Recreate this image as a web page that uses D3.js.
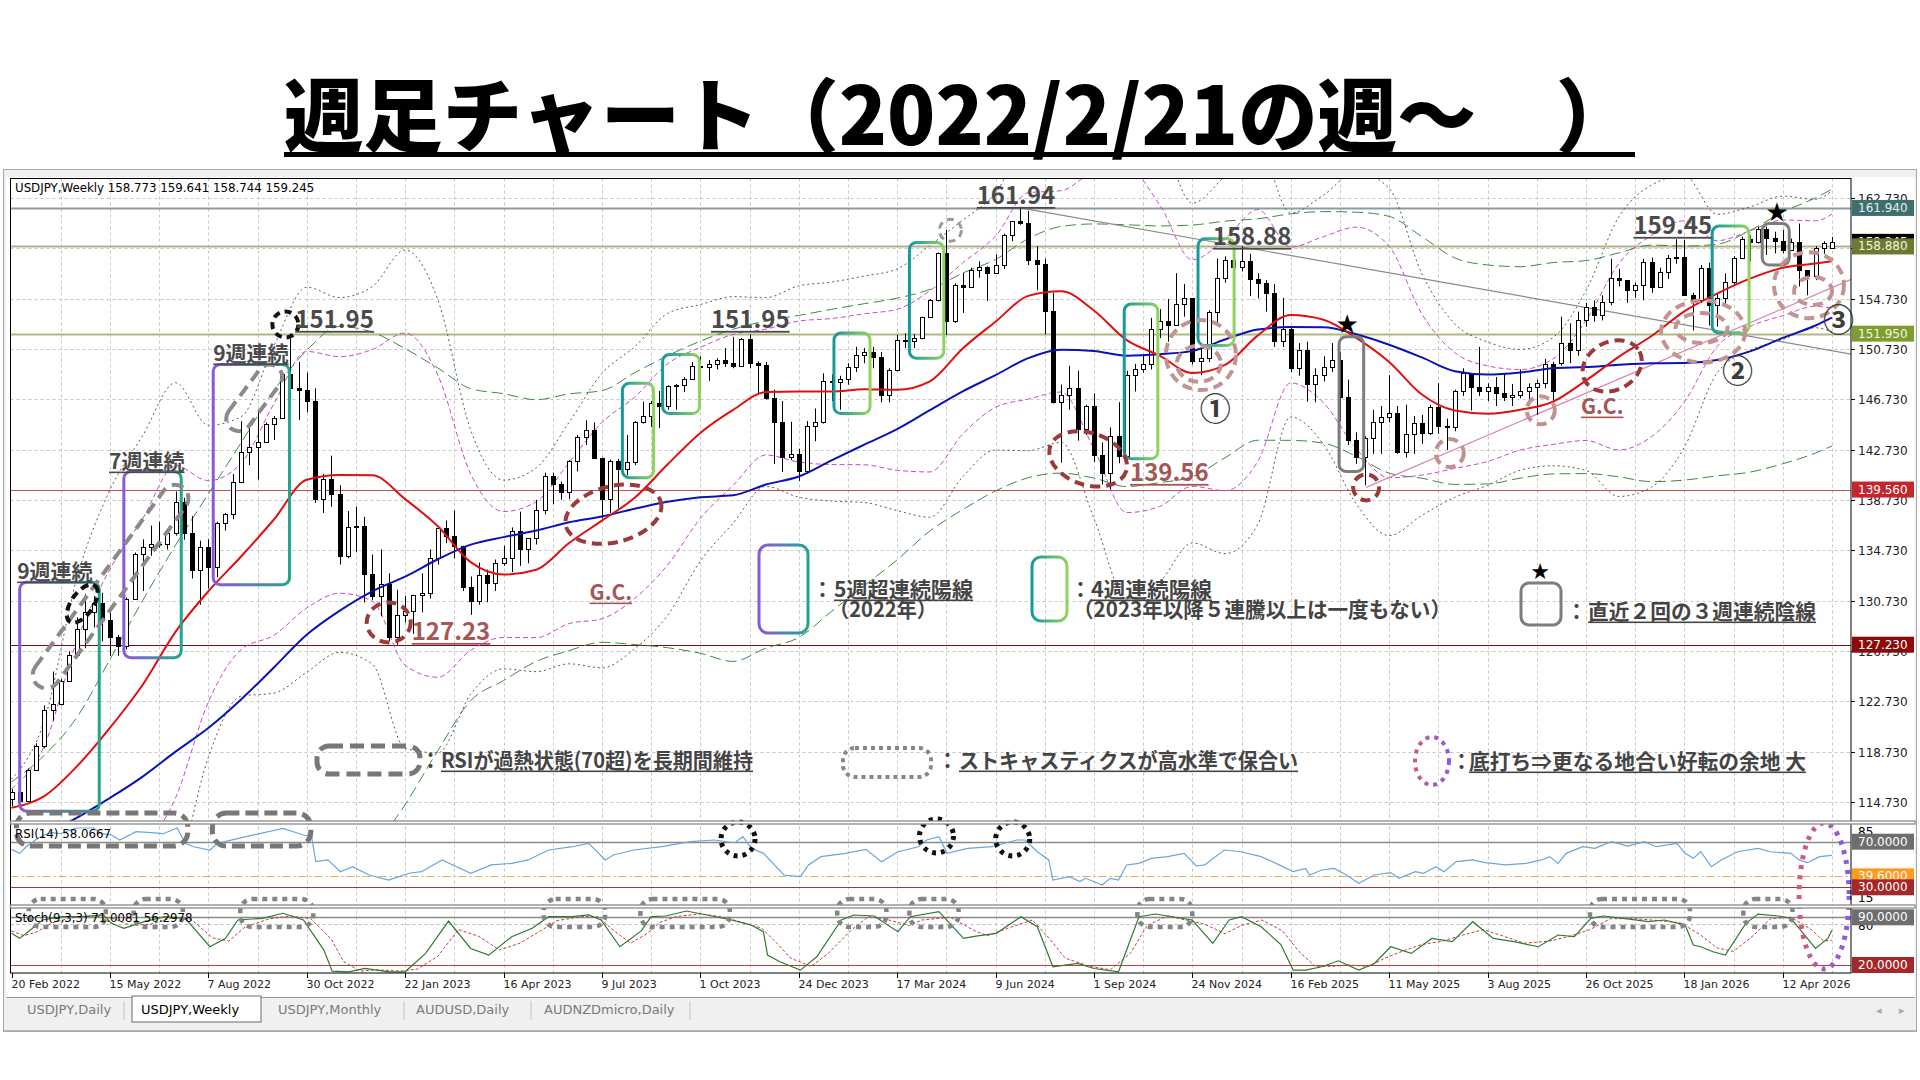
<!DOCTYPE html>
<html lang="ja">
<head>
<meta charset="utf-8">
<script src="https://cdn.jsdelivr.net/npm/d3@7/dist/d3.min.js"></script>
<style>
  html, body { margin: 0; padding: 0; background: #fff; }
  svg { display: block; }
</style>
</head>
<body>
<svg id="chart"></svg>
<script>
// ---------- data ----------
const tickLabels = ["20 Feb 2022", "15 May 2022", "7 Aug 2022", "30 Oct 2022", "22 Jan 2023", "16 Apr 2023",
  "9 Jul 2023", "1 Oct 2023", "24 Dec 2023", "17 Mar 2024", "9 Jun 2024", "1 Sep 2024", "24 Nov 2024",
  "16 Feb 2025", "11 May 2025", "3 Aug 2025", "26 Oct 2025", "18 Jan 2026", "12 Apr 2026"];

// weekly candles, one row per 12 weeks
const opens = [
  115.00,115.56,114.78,117.29,119.17,122.05,122.53,124.33,126.42,128.50,129.86,130.56,
  129.19,127.86,127.11,130.86,134.40,134.96,135.21,135.24,136.10,138.55,136.10,133.19,
  135.00,133.42,136.89,137.61,140.20,142.58,142.91,143.34,144.74,145.27,148.73,147.67,
  147.45,146.62,138.80,140.37,139.17,134.30,136.55,136.66,132.85,131.10,132.09,127.87,
  129.59,129.88,131.19,131.36,134.16,136.48,135.85,135.04,131.82,130.74,132.80,132.15,
  133.76,134.16,136.30,134.83,135.71,137.96,140.61,139.98,139.39,141.85,143.72,144.31,
  142.10,138.80,141.80,141.17,141.75,144.96,145.38,146.42,146.20,147.82,147.88,148.36,
  149.35,149.32,149.57,149.86,149.65,149.39,151.52,149.60,149.44,146.80,144.95,142.16,
  142.42,141.00,144.60,144.93,148.15,148.14,148.36,149.29,150.22,150.50,150.11,147.06,
  149.04,151.43,151.35,151.61,153.27,154.63,158.33,152.97,155.78,155.66,156.99,157.26,
  156.78,157.40,159.77,160.88,160.77,157.83,157.49,153.76,146.54,147.11,147.63,144.36,
  146.17,142.29,140.85,143.85,142.20,148.70,149.15,149.50,152.30,152.98,152.63,154.31,
  154.75,149.77,150.00,153.65,156.40,157.84,157.26,157.73,156.30,155.96,155.18,151.40,
  152.30,149.20,150.63,147.98,148.63,149.32,149.84,146.90,143.50,142.18,143.68,144.95,
  145.36,145.67,142.57,144.01,144.86,144.08,146.10,144.65,144.50,147.40,148.80,147.70,
  147.40,147.70,147.20,146.90,147.05,147.40,147.70,148.00,149.50,149.60,151.18,150.65,
  153.03,154.09,153.43,154.49,156.34,156.20,155.42,155.80,157.67,155.68,156.87,157.93,
  158.07,155.00,154.60,157.14,154.20,154.75,156.08,157.93,159.44,159.26,160.24,159.52,
  159.34,158.60,159.26,157.00,156.50,158.73,158.773];
const highs = [
  115.77,115.80,117.40,119.40,122.40,125.10,124.50,126.70,129.40,131.25,131.10,131.35,
  129.80,128.00,130.98,134.56,135.60,136.70,137.00,136.30,139.40,138.90,137.45,135.50,
  135.60,137.00,137.70,140.80,144.99,144.90,145.90,144.90,145.40,148.86,151.95,149.70,
  148.85,147.60,140.80,142.25,139.90,137.85,138.20,137.40,134.40,134.80,132.90,131.60,
  131.10,131.20,132.90,134.80,136.50,137.10,137.90,135.10,132.65,133.75,133.20,134.00,
  135.10,136.55,137.80,135.50,138.75,140.90,140.90,140.20,141.90,143.90,145.07,144.90,
  142.10,141.95,142.00,143.90,145.00,146.55,146.60,147.40,147.85,147.95,148.50,149.70,
  150.15,149.85,150.00,150.80,151.70,151.60,151.90,149.75,149.70,147.50,146.60,144.95,
  142.80,145.00,146.00,148.80,148.70,148.60,149.60,150.90,150.80,150.90,150.50,149.20,
  151.85,151.97,151.90,153.30,154.70,158.40,160.20,155.95,156.80,157.20,157.70,157.30,
  158.25,159.90,160.90,161.94,161.70,158.90,157.90,155.20,147.90,149.40,149.00,146.30,
  147.20,143.30,144.50,146.50,149.00,149.55,150.30,153.20,153.90,154.70,156.75,155.90,
  154.50,151.20,153.80,157.90,158.10,158.10,158.88,158.30,156.75,156.20,155.90,154.80,
  152.40,151.20,151.30,149.20,150.15,151.20,150.50,148.30,144.10,143.80,145.90,146.20,
  148.65,146.20,146.30,145.40,145.50,146.30,148.00,145.20,147.50,149.20,148.80,150.90,
  148.00,148.50,148.80,147.95,149.10,148.00,148.30,149.95,149.70,153.30,152.77,153.70,
  154.40,154.60,155.00,157.90,157.10,156.20,156.00,157.90,158.00,157.20,158.20,159.45,
  159.39,155.20,157.40,157.60,155.15,156.74,158.10,159.66,159.80,160.45,160.45,160.05,
  160.19,159.50,160.70,157.00,158.90,159.30,159.641];
const lows = [
  114.41,114.65,114.80,117.70,119.00,121.20,122.40,124.30,126.30,126.95,128.60,127.50,
  126.35,126.35,126.86,130.80,131.50,134.30,134.95,134.80,135.90,135.57,132.50,130.40,
  131.70,132.60,136.30,137.20,140.20,141.50,140.35,143.30,143.50,145.20,146.20,145.10,
  145.70,138.50,137.70,138.20,133.60,134.10,134.60,130.60,130.80,129.50,127.50,127.23,
  129.00,128.10,129.80,130.90,133.60,135.30,134.10,131.50,129.60,130.40,130.60,131.50,
  133.50,133.00,133.50,133.70,135.20,137.60,138.40,138.75,138.80,141.00,143.10,142.00,
  137.25,137.70,138.05,140.70,141.50,144.80,144.55,144.45,145.90,145.90,147.30,148.40,
  147.30,148.20,149.10,149.30,149.20,149.30,149.20,147.15,146.70,141.60,140.95,141.90,
  140.25,140.80,143.40,144.80,146.60,145.90,147.90,148.90,149.60,149.20,146.50,146.50,
  148.95,150.80,150.80,151.50,153.30,154.50,151.85,152.80,153.60,155.60,156.40,154.55,
  156.80,157.10,159.30,160.60,157.40,155.40,151.90,146.40,141.70,145.90,143.45,143.90,
  141.75,139.95,139.58,141.65,141.70,147.35,148.85,149.10,151.60,151.30,152.70,153.30,
  149.50,148.65,149.70,152.70,156.00,156.10,156.90,154.95,154.75,153.70,150.90,150.90,
  148.90,148.60,146.55,146.50,148.15,148.90,145.00,143.10,141.60,139.89,142.40,142.40,
  144.90,142.40,142.10,142.40,143.20,143.90,144.00,142.70,144.20,147.00,145.85,147.00,
  146.60,146.20,146.60,146.20,146.80,146.30,145.50,147.60,146.60,149.40,149.60,150.20,
  152.50,152.90,153.00,154.20,155.70,154.40,154.80,154.60,155.20,155.90,156.30,157.50,
  155.40,152.20,154.40,152.60,152.50,154.20,155.80,157.90,157.70,159.10,158.20,158.33,
  158.33,158.60,155.70,155.00,156.20,158.30,158.744];
const closes = [
  115.56,114.78,117.29,119.17,122.05,122.53,124.33,126.42,128.50,129.86,130.56,129.19,
  127.86,127.11,130.86,134.40,134.96,135.21,135.24,136.10,138.55,136.10,133.19,135.00,
  133.42,136.89,137.61,140.20,142.58,142.91,143.34,144.74,145.27,148.73,147.67,147.45,
  146.62,138.80,140.37,139.17,134.30,136.55,136.66,132.85,131.10,132.09,127.87,129.59,
  129.88,131.19,131.36,134.16,136.48,135.85,135.04,131.82,130.74,132.80,132.15,133.76,
  134.16,136.30,134.83,135.71,137.96,140.61,139.98,139.39,141.85,143.72,144.31,142.10,
  138.80,141.80,141.17,141.75,144.96,145.38,146.42,146.20,147.82,147.88,148.36,149.35,
  149.32,149.57,149.86,149.65,149.39,151.52,149.60,149.44,146.80,144.95,142.16,142.42,
  141.00,144.60,144.93,148.15,148.14,148.36,149.29,150.22,150.50,150.11,147.06,149.04,
  151.43,151.35,151.61,153.27,154.63,158.33,152.97,155.78,155.66,156.99,157.26,156.78,
  157.40,159.77,160.88,160.77,157.83,157.49,153.76,146.54,147.11,147.63,144.36,146.17,
  142.29,140.85,143.85,142.20,148.70,149.15,149.50,152.30,152.98,152.63,154.31,154.75,
  149.77,150.00,153.65,156.40,157.84,157.26,157.73,156.30,155.96,155.18,151.40,152.30,
  149.20,150.63,147.98,148.63,149.32,149.84,146.90,143.50,142.18,143.68,144.95,145.36,
  145.67,142.57,144.01,144.86,144.08,146.10,144.65,144.50,147.40,148.80,147.70,147.40,
  147.70,147.20,146.90,147.05,147.40,147.70,148.00,149.50,147.40,151.18,150.65,153.03,
  154.09,153.43,154.49,156.34,156.20,155.42,155.80,157.67,155.68,156.87,157.93,158.07,
  155.00,154.60,157.14,154.20,154.75,156.08,157.93,159.44,159.26,160.24,159.52,159.34,
  158.60,159.26,157.00,156.50,158.73,159.18,159.245];

// moving averages and bands, sampled every 4 weeks
const maWeeks = [0,4,8,12,16,20,24,28,32,36,40,44,48,52,56,60,64,68,72,76,80,84,88,92,96,100,104,108,
  112,116,120,124,128,132,136,140,144,148,152,156,160,164,168,172,176,180,184,188,192,196,200,204,208,
  212,216,220,222];
const sma20 = [114.28,115.20,117.58,120.62,124.05,128.25,131.47,134.24,137.18,140.34,140.72,140.69,138.80,
  136.64,133.79,132.81,133.19,135.31,137.09,138.91,141.55,144.06,145.89,147.31,147.35,147.35,147.53,147.49,
  148.16,150.77,152.90,154.95,155.31,153.79,151.43,150.21,148.82,149.47,151.81,153.43,153.06,151.61,149.70,
  147.11,145.84,145.59,145.90,146.55,148.22,150.11,151.76,153.72,155.13,156.32,157.18,157.52,157.70];
const sma52 = [111.52,112.24,113.49,115.05,116.75,118.73,120.61,122.88,125.42,128.02,129.92,131.47,132.64,
  134.02,135.18,135.78,136.30,136.96,137.42,138.04,138.59,138.95,139.10,139.96,140.60,141.88,143.13,144.37,
  145.87,147.36,148.65,150.00,150.67,150.57,150.20,150.31,150.58,151.49,152.28,152.47,152.45,151.90,151.07,
  150.06,148.97,148.71,148.87,149.20,149.29,149.47,149.59,149.61,149.85,150.54,151.61,152.60,153.22];
// magenta dashed pair (inner band)
const innerUp = [115.78,119.20,127.58,133.22,137.25,141.45,140.27,141.64,146.38,150.54,150.12,150.69,152.00,
  148.64,140.79,137.81,138.59,141.71,144.89,146.91,149.55,150.86,151.89,152.31,152.95,153.15,153.53,153.89,
  155.36,157.57,159.70,163.15,163.31,164.79,165.13,162.21,157.82,159.47,161.81,158.83,159.66,160.41,158.90,
  153.51,150.44,149.39,149.10,149.95,152.98,157.51,159.76,160.92,159.33,160.12,160.98,160.92,161.44];
const innerLo = [112.78,111.20,107.58,108.02,110.85,115.05,122.67,126.84,127.98,130.14,131.32,130.69,125.60,
  124.64,126.79,127.81,127.79,128.91,129.29,130.91,133.55,137.26,139.89,142.31,141.75,141.55,141.53,141.09,
  140.96,143.97,146.10,146.75,147.31,142.79,137.73,138.21,139.82,139.47,141.81,148.03,146.46,142.81,140.50,
  140.71,141.24,141.79,142.70,143.15,143.46,142.71,143.76,146.52,150.93,152.52,153.38,154.12,153.96];
// gray dotted pair (outer band)
const outerUp = [116.53,121.20,132.58,139.52,143.85,148.05,144.67,145.34,150.98,155.64,154.82,155.69,158.60,
  154.64,144.29,140.31,141.29,144.91,148.79,150.91,153.55,154.26,154.89,154.81,155.75,156.05,156.53,157.09,
  158.96,160.97,163.10,167.25,167.31,170.29,171.98,168.21,162.32,164.47,166.81,161.53,162.96,164.81,163.50,
  156.71,152.74,151.29,150.70,151.65,155.36,161.21,163.76,164.52,161.43,162.02,162.88,162.62,163.31];
const outerLo = [112.03,109.20,102.58,101.72,104.25,108.45,118.27,123.14,123.38,125.04,126.62,125.69,119.00,
  118.64,123.29,125.31,125.09,125.71,125.39,126.91,129.55,133.86,136.89,139.81,138.95,138.65,138.53,137.89,
  137.36,140.57,142.70,142.65,143.31,137.29,130.88,132.21,135.32,134.47,136.81,145.33,143.16,138.41,135.90,
  137.51,138.94,139.89,141.10,141.45,141.08,139.01,139.76,142.92,148.83,150.62,151.48,152.42,152.09];
// green long-dashed pair (band around the 52-week line)
const longUp = [116.32,118.44,121.49,126.05,130.75,135.13,139.21,143.28,147.42,150.62,152.52,152.07,150.76,
  149.22,147.58,147.18,146.70,147.16,147.42,148.84,150.19,151.35,152.30,152.96,153.40,153.88,154.33,154.77,
  155.47,156.76,157.85,159.50,160.47,160.67,160.60,160.51,160.58,160.89,161.08,161.47,161.65,161.60,161.27,
  159.66,157.97,157.41,157.27,157.60,157.75,158.37,158.99,158.91,159.05,160.14,161.61,162.74,163.42];
const longLo = [106.72,106.04,105.49,104.05,102.75,102.33,102.01,102.48,103.42,105.42,107.32,110.87,114.52,
  118.82,122.78,124.38,125.90,126.76,127.42,127.24,126.99,126.55,125.90,126.96,127.80,129.88,131.93,133.97,
  136.27,137.96,139.45,140.50,140.87,140.47,139.80,140.11,140.58,142.09,143.48,143.47,143.25,142.20,140.87,
  140.46,139.97,140.01,140.47,140.80,140.83,140.57,140.19,140.31,140.65,140.94,141.61,142.46,143.02];

// RSI(14) and Stoch(9,3,3) traces: [week, value]
const rsiPts = [[0,63.3],[1,59.8],[1.8,65.6],[3,72],[4,76],[5,78],[6,77],[7,80],[8,82],[9,82],[10,82],[11,77],
  [12.2,75.9],[13.2,71.5],[15.2,78.8],[17,78],[18.5,77],[20.2,82],[21.2,68.6],[22.2,65.6],[24.2,62.7],[25.1,68.6],
  [28.6,74.4],[33.1,81.7],[35.6,75.9],[36.6,74.4],[37.1,52.5],[38.6,54],[40.1,43.7],[41.6,48.1],[43.6,40.8],
  [46,36.4],[48.5,42.3],[50,43.7],[52.5,54],[56,42.3],[58.5,49.6],[61,51],[63,54],[65.5,62.7],[68.4,65.6],
  [70.4,68.6],[72.4,54],[73.4,58.3],[75.9,62.7],[79.3,65.6],[82.8,70],[85.7,71.5],[88.2,69.1],[89.2,74.4],
  [90.2,64.2],[91.7,59.8],[94.2,40.8],[96.2,39.3],[97.2,49.6],[98.7,56.9],[101.7,59.8],[104.2,63.3],[106.1,52.5],
  [108.1,61.2],[110.6,65.6],[111.6,71.5],[113.1,74.4],[114.1,59.8],[116.6,64.2],[119.6,65.6],[121.1,68.6],
  [122.6,71.5],[123.6,71.5],[125.1,61.2],[126.5,54],[127,36.4],[129,39.3],[130.3,35],[131,37.9],[133,32],
  [134,37.9],[135,36.4],[136,49.6],[137.5,51],[139,55.4],[141,56.9],[143,59.8],[144.5,48.7],[145.5,49.6],
  [147.9,62.7],[149.9,61.2],[152.4,56.9],[154.8,49],[156.3,43.7],[157.8,46.6],[158.3,40.8],[159.8,45.2],
  [161.3,46.6],[162.8,40.8],[164.3,33.5],[166.2,40.8],[168.2,42.9],[169.2,37.9],[171.2,43.7],[172.2,42.3],
  [173.7,48.1],[174.7,43.7],[176.2,52.5],[178.2,54],[179.7,51.6],[182.2,49.6],[184.7,51],[186.6,54],[187.6,56.9],
  [188.6,51],[189.6,59.8],[191.6,65.6],[193.1,64.2],[195.1,70],[197.1,66.2],[199.1,70],[200.6,65.6],[203.1,68.6],
  [204.1,59.8],[205.1,55.4],[206,61.2],[207.3,48.1],[208.5,54],[210.5,61.2],[213,64.2],[214.5,61.2],[217,59.8],
  [218,54],[219,51.6],[220.5,56.9],[222,58.07]];
const stochK = [[0,66.5],[1,59.1],[2.3,71.3],[3.8,86],[6.2,90.9],[8.7,90.9],[11.2,93.4],[12.2,81.1],[13.7,73.8],
  [16.2,83.6],[18.7,90.9],[21.2,88.5],[24.2,46.8],[26.1,59.1],[27.6,86],[30.6,88.5],[33.1,95.9],[35.6,86],
  [38.1,41.9],[39.1,11],[41.1,10],[43.1,14.9],[46,10],[48,10],[50.5,37],[53.3,84.5],[56,44.3],[58.2,34.5],
  [61,61.5],[63.5,73.8],[65.5,90.9],[68.4,90.9],[70.4,93.4],[71.9,86],[74.2,46.8],[76.8,70],[78,90.9],[79.8,91.9],
  [82.3,99.2],[84.8,93.4],[87.8,86],[90.2,78.6],[91.7,68.8],[92.2,34.5],[93.7,24.7],[96.2,12.5],[98.2,32.1],
  [101.2,86],[102.7,93.4],[105.2,91.9],[108.1,68.8],[109.6,90.9],[113.1,98.2],[116.1,59],[117.6,62.5],[120.1,66.5],
  [123.1,90.9],[125.1,76.2],[127,17.4],[130,22.3],[132,14.9],[135,10],[137.5,90.9],[139.5,94.8],[144,86],
  [146.5,51.7],[148.5,86],[150,90.9],[152.4,76.2],[154.8,50],[156.3,12.5],[157.8,12.5],[159.8,17.4],[161.8,26.2],
  [164.3,12.5],[166.2,22.3],[168.2,46.8],[170.7,37],[173.2,59],[175.7,54.2],[178.2,83.6],[180.7,59],[183.2,54.2],
  [186.2,46.8],[188.6,64],[190.6,61.5],[192.6,88.5],[194.1,91.9],[196.6,88.5],[199.6,83.6],[201.6,86],[204.1,78.6],
  [205.1,49.2],[206,46.8],[207.5,39.4],[209,34.5],[211.5,81.1],[213,94.8],[215.5,91.9],[217,88.5],[218.5,66.5],
  [220,44.3],[221.5,59],[222,71.0]];
const stochD = [[0,70],[1.5,63],[3,68],[5,82],[7.5,90],[10,92],[12.5,88],[14.5,78],[17,80],[19.5,89],[22,86],
  [24.5,60],[26.5,55],[28.5,76],[31.5,88],[34,92],[36.5,88],[39,58],[40.5,25],[42.5,11],[44.5,13],[47.5,11],
  [49.5,14],[52,33],[54.5,72],[57,62],[59.5,42],[62,52],[64.5,70],[66.5,85],[69.5,91],[71.5,91],[73.5,70],
  [75.5,52],[77.5,66],[79,82],[81,91],[84,95],[86.5,91],[89,83],[91.5,74],[93.5,50],[95,30],[97.5,18],[99.5,36],
  [102.5,72],[104.5,91],[107,86],[109.5,78],[111,86],[114.5,90],[117.5,70],[119,63],[121.5,74],[124.5,86],
  [126.5,60],[128.5,30],[131.5,18],[134,13],[136.5,38],[138.5,78],[141,92],[145.5,80],[148,66],[150,78],
  [152.5,86],[155,70],[157,40],[159,18],[161,18],[163,20],[165.5,18],[167.5,30],[170,42],[172,50],[174.5,55],
  [177,64],[179.5,72],[182,62],[184.5,52],[187.5,55],[190,62],[192.5,72],[195,88],[198,88],[201,85],[203.5,82],
  [206,64],[208,45],[210,40],[212.5,64],[214.5,88],[217,90],[219.5,72],[221,55],[222,56.3]];

const lastQuote = [158.773, 159.641, 158.744, 159.245];
const rsiLast = 58.0667, stochLast = [71.0081, 56.2978];
const priceLevels = [161.94, 158.88, 151.95, 139.56, 127.23];
const priceTicks = [162.73, 158.73, 154.73, 150.73, 146.73, 142.73, 138.73, 134.73, 130.73, 126.73, 122.73, 118.73, 114.73];
const rsiLevels = [70, 39.6, 30];
const stochLevels = [90, 80, 20];

// annotations, in weeks and prices
const purpleRuns = [[1.0, 10.7, 132.2, 114.0], [13.7, 20.7, 141.0, 126.2], [24.6, 33.9, 149.5, 132.0]];
const tealRuns = [[74.5, 78.3, 148.0, 140.5], [79.4, 83.9, 150.3, 145.6], [100.3, 104.7, 152.0, 145.6],
  [109.5, 113.7, 159.2, 150.0], [135.7, 139.8, 154.3, 142.0], [144.7, 149.1, 159.5, 151.0], [207.4, 211.9, 160.5, 152.0]];
const grayRuns = [[161.9, 164.9, 151.7, 141.0], [213.5, 216.8, 160.7, 157.4]];
const stars = [[162.9, 152.7], [215.3, 161.6]];
const circles = [ // week, price, rx, ry, rotation, tone
  [73.4, 137.6, 49, 28, -14, 'd'], [46.0, 129.0, 22, 20, 0, 'd'], [131.3, 142.0, 40, 26, 18, 'd'],
  [145.05, 150.25, 35, 35, 0, 'p'], [144.8, 149.56, 22, 18, 0, 'p'], [165.2, 139.73, 13, 13, 0, 'd'],
  [175.4, 142.46, 14, 14, 0, 'p'], [186.5, 145.86, 14, 14, 0, 'p'], [195.2, 149.38, 31, 24, -28, 'd'],
  [206.3, 152.12, 42, 31, 0, 'p'], [206.1, 152.4, 26, 15, 0, 'p'], [219.2, 155.8, 35, 33, 0, 'p'],
  [219.7, 155.34, 19, 14, 0, 'p']];
const peakMarks = [[33.4, 152.68, 13, 'k'], [114.5, 160.17, 11, 'g']];
const rsiCapsulesMain = [[3.26, 123.97, 20.9, 139.73, 27], [26.8, 144.4, 32.4, 149.3, 25]];
const smallTilt = [8.63, 130.49, 22, 11, -55];
const priceNotes = [["151.95", 34.6, 152.4, 'g'], ["9週連続", 24.6, 149.78, 'g'], ["7週連続", 11.9, 141.19, 'g'],
  ["9週連続", 0.7, 132.45, 'g'], ["151.95", 85.3, 152.4, 'g'], ["161.94", 117.7, 162.25, 'g'],
  ["158.88", 146.5, 159.0, 'g'], ["159.45", 197.8, 159.87, 'g'], ["139.56", 136.4, 140.24, 'r'],
  ["127.23", 48.8, 127.6, 'r'], ["G.C.", 70.5, 130.78, 'r'], ["G.C.", 191.4, 145.56, 'r']];
const circledNums = [["①", 146.8, 146.16], ["②", 210.5, 149.2], ["③", 222.8, 153.27]];
const grayTrend = [[123, 161.94], [224.4, 150.32]];
const pinkTrend = [[165.2, 139.73], [224.5, 156.3]];
const rsiCapsules = [[0.6, 21.5], [24.5, 36.5]];
const rsiDots = [[88.6, 72.4], [112.8, 75.0], [122.1, 72.4]];
const stochCapsules = [[2.1, 11.5], [14.9, 20.9], [27.9, 36.8], [64.9, 72.4], [76.7, 87.6], [100.7, 106.7],
  [109.5, 115.5], [137.3, 144.0], [192.5, 204.7], [211.2, 217.2]];
const bottomOval = 221.05;
const tabs = ["USDJPY,Daily", "USDJPY,Weekly", "USDJPY,Monthly", "AUDUSD,Daily", "AUDNZDmicro,Daily"];

// ---------- layout ----------
const L = 10.5, R = 1851, mainTop = 178.5, mainBot = 821, stoBot = 973;
const svg = d3.select('#chart').attr('width', 1920).attr('height', 1080)
  .style('font-family', '"DejaVu Sans", sans-serif');
const JP = '"Noto Sans CJK JP", "Noto Sans", sans-serif';

const x = d3.scaleLinear().domain([0, 216]).range([11.5, 1782.7]);
const y = d3.scaleLinear().domain([114.73, 162.73]).range([802, 198]);
const yR = d3.scaleLinear().domain([30, 70]).range([887.3, 841.7]);
const yS = d3.scaleLinear().domain([20, 90]).range([965, 917.3]);

const defs = svg.append('defs');
function grad(id, a, b) {
  const lg = defs.append('linearGradient').attr('id', id).attr('x1', 0).attr('x2', 1).attr('y1', 0).attr('y2', 0);
  lg.append('stop').attr('offset', '0%').attr('stop-color', a);
  lg.append('stop').attr('offset', '100%').attr('stop-color', b);
}
grad('gPurple', '#8a5ad8', '#22a48e');
grad('gTeal', '#149a9c', '#8fd45c');
grad('gOval', '#d45a7a', '#8a5ae6');
defs.append('clipPath').attr('id', 'clipMain').append('rect')
  .attr('x', L).attr('y', mainTop).attr('width', R - L).attr('height', mainBot - mainTop);

// ---------- window chrome ----------
svg.append('rect').attr('width', 1920).attr('height', 1080).attr('fill', '#fff');
svg.append('rect').attr('x', 3.5).attr('y', 169.5).attr('width', 1913).attr('height', 862)
  .attr('fill', '#f0f0f0').attr('stroke', '#a9a9a9');
svg.append('rect').attr('x', 6).attr('y', 177).attr('width', 1909).attr('height', 820).attr('fill', '#fff');

// title
svg.append('text').attr('x', 284).attr('y', 145).attr('font-family', JP)
  .attr('font-size', 80).attr('font-weight', 900).attr('fill', '#000')
  .attr('textLength', 1351).attr('lengthAdjust', 'spacingAndGlyphs')
  .text('週足チャート（2022/2/21の週～　）');
svg.append('rect').attr('x', 284).attr('y', 152).attr('width', 1351).attr('height', 5).attr('fill', '#000');

// ---------- grid ----------
const grid = svg.append('g').attr('stroke', '#c6c6c6').attr('stroke-dasharray', '3,3');
for (let w = 6; w <= 222; w += 6) {
  const xx = Math.round(x(w)) + 0.5;
  grid.append('line').attr('x1', xx).attr('x2', xx).attr('y1', mainTop).attr('y2', stoBot);
}
priceTicks.forEach(p => {
  const yy = Math.round(y(p)) + 0.5;
  grid.append('line').attr('x1', L).attr('x2', R).attr('y1', yy).attr('y2', yy);
});

const main = svg.append('g').attr('clip-path', 'url(#clipMain)');

// horizontal price levels
const levelColors = ['#8d9c9c', '#b3b38a', '#b2b97e', '#c25050', '#7a1010'];
priceLevels.forEach((p, i) => {
  const yy = Math.round(y(p)) + 0.5;
  main.append('line').attr('x1', L).attr('x2', R).attr('y1', yy).attr('y2', yy)
    .attr('stroke', levelColors[i]).attr('stroke-width', i < 3 ? 2 : 1.2);
});

// bands
const bandLine = d3.line().x((d, i) => x(maWeeks[i])).y(d => y(d)).curve(d3.curveMonotoneX);
[[longUp, longLo, '#3d8c3d', '11,5'], [outerUp, outerLo, '#5a5a5a', '2,3'], [innerUp, innerLo, '#cc48cc', '5,3']]
  .forEach(([up, lo, col, dash]) => {
    [up, lo].forEach(arr => main.append('path').attr('d', bandLine(arr)).attr('fill', 'none')
      .attr('stroke', col).attr('stroke-width', 1).attr('stroke-dasharray', dash));
  });

// trend lines
const tl = d3.line().x(d => x(d[0])).y(d => y(d[1]));
main.append('path').attr('d', tl(grayTrend)).attr('stroke', '#8a8a8a').attr('stroke-width', 1.2).attr('fill', 'none');
main.append('path').attr('d', tl(pinkTrend)).attr('stroke', '#d888a8').attr('stroke-width', 1.2).attr('fill', 'none');

// candles
closes.forEach((c, i) => {
  const o = opens[i], cx = Math.round(x(i)) + 0.5;
  main.append('line').attr('x1', cx).attr('x2', cx).attr('y1', y(highs[i])).attr('y2', y(lows[i]))
    .attr('stroke', '#000');
  const t = Math.round(y(Math.max(o, c))) + 0.5, b = Math.round(y(Math.min(o, c))) + 0.5;
  main.append('rect').attr('x', cx - 2).attr('y', t).attr('width', 4).attr('height', Math.max(b - t, 0.5))
    .attr('fill', c >= o ? '#fff' : '#000').attr('stroke', '#000');
});

// moving averages
const maLine = d3.line().x((d, i) => x(maWeeks[i])).y(d => y(d)).curve(d3.curveMonotoneX);
main.append('path').attr('d', maLine(sma52)).attr('fill', 'none').attr('stroke', '#0a14b4').attr('stroke-width', 2);
main.append('path').attr('d', maLine(sma20)).attr('fill', 'none').attr('stroke', '#e01010').attr('stroke-width', 2);

// ---------- annotations on the price panel ----------
const ann = svg.append('g');
function runBox(r, stroke, width) {
  const x0 = x(r[0]), x1 = x(r[1]), y0 = y(r[2]), y1 = y(r[3]);
  ann.append('rect').attr('x', x0).attr('y', y0).attr('width', x1 - x0).attr('height', y1 - y0)
    .attr('rx', 7).attr('fill', 'none').attr('stroke', stroke).attr('stroke-width', width);
}
purpleRuns.forEach(r => runBox(r, 'url(#gPurple)', 3));
tealRuns.forEach(r => runBox(r, 'url(#gTeal)', 3));
grayRuns.forEach(r => runBox(r, '#7d7d7d', 3));
stars.forEach(s => ann.append('text').attr('x', x(s[0])).attr('y', y(s[1])).attr('text-anchor', 'middle')
  .attr('dominant-baseline', 'central').attr('font-size', 26).attr('fill', '#000').text('★'));

const tone = { d: '#9b3a3a', p: '#c39392' };
circles.forEach(([w, p, rx, ry, rot, t]) => {
  const cx = x(w), cy = y(p);
  ann.append('ellipse').attr('cx', cx).attr('cy', cy).attr('rx', rx).attr('ry', ry)
    .attr('transform', `rotate(${rot},${cx},${cy})`).attr('fill', 'none')
    .attr('stroke', tone[t]).attr('stroke-width', 4).attr('stroke-dasharray', '10,6');
});
peakMarks.forEach(([w, p, r, t]) => {
  ann.append('circle').attr('cx', x(w)).attr('cy', y(p)).attr('r', r).attr('fill', 'none')
    .attr('stroke', t === 'k' ? '#111' : '#9a9a9a').attr('stroke-width', t === 'k' ? 4 : 3)
    .attr('stroke-dasharray', '7,5');
});
rsiCapsulesMain.forEach(([w0, p0, w1, p1, th]) => {
  const ax = x(w0), ay = y(p0), bx = x(w1), by = y(p1);
  const len = Math.hypot(bx - ax, by - ay), ang = Math.atan2(by - ay, bx - ax) * 180 / Math.PI;
  const cx = (ax + bx) / 2, cy = (ay + by) / 2;
  ann.append('rect').attr('x', cx - len / 2).attr('y', cy - th / 2).attr('width', len).attr('height', th)
    .attr('rx', th / 2).attr('transform', `rotate(${ang},${cx},${cy})`).attr('fill', 'none')
    .attr('stroke', '#8a8a8a').attr('stroke-width', 4).attr('stroke-dasharray', '12,7');
});
{
  const [w, p, rx, ry, rot] = smallTilt, cx = x(w), cy = y(p);
  ann.append('ellipse').attr('cx', cx).attr('cy', cy).attr('rx', rx).attr('ry', ry)
    .attr('transform', `rotate(${rot},${cx},${cy})`).attr('fill', 'none')
    .attr('stroke', '#111').attr('stroke-width', 4).attr('stroke-dasharray', '8,5');
}

function underlined(g, str, x0, y0, size, color, len) {
  const t = g.append('text').attr('x', x0).attr('y', y0).attr('font-family', JP).attr('font-size', size)
    .attr('font-weight', 700).attr('fill', color).text(str);
  if (len) t.attr('textLength', len).attr('lengthAdjust', 'spacingAndGlyphs');
  const w = len || t.node().getComputedTextLength();
  g.append('rect').attr('x', x0).attr('y', y0 + size * 0.12).attr('width', w)
    .attr('height', Math.max(1.5, size * 0.075)).attr('fill', color);
  return t;
}
priceNotes.forEach(([s, w, p, t]) => {
  const isNum = /^[0-9.]+$/.test(s);
  underlined(ann, s, x(w), y(p), isNum ? 24 : 21, t === 'r' ? '#a65656' : '#4a4a4a');
});
circledNums.forEach(([s, w, p]) => ann.append('text').attr('x', x(w)).attr('y', y(p))
  .attr('text-anchor', 'middle').attr('dominant-baseline', 'central').attr('font-family', JP)
  .attr('font-size', 31).attr('font-weight', 700).attr('fill', '#3c3c3c').text(s));

// ---------- legend notes ----------
const leg = svg.append('g');
leg.append('rect').attr('x', 759).attr('y', 545).attr('width', 49).attr('height', 88).attr('rx', 9)
  .attr('fill', 'none').attr('stroke', 'url(#gPurple)').attr('stroke-width', 3);
leg.append('rect').attr('x', 1032).attr('y', 557).attr('width', 35).attr('height', 64).attr('rx', 9)
  .attr('fill', 'none').attr('stroke', 'url(#gTeal)').attr('stroke-width', 3);
leg.append('rect').attr('x', 1521).attr('y', 583).attr('width', 40).attr('height', 42).attr('rx', 8)
  .attr('fill', 'none').attr('stroke', '#7d7d7d').attr('stroke-width', 3);
leg.append('text').attr('x', 1540).attr('y', 571).attr('text-anchor', 'middle').attr('dominant-baseline', 'central')
  .attr('font-size', 22).text('★');
leg.append('rect').attr('x', 317).attr('y', 746).attr('width', 103).attr('height', 28).attr('rx', 12)
  .attr('fill', 'none').attr('stroke', '#777').attr('stroke-width', 5).attr('stroke-dasharray', '14,7');
leg.append('rect').attr('x', 843).attr('y', 748).attr('width', 88).attr('height', 29).attr('rx', 12)
  .attr('fill', 'none').attr('stroke', '#888').attr('stroke-width', 4).attr('stroke-dasharray', '4,4');
leg.append('ellipse').attr('cx', 1432).attr('cy', 761).attr('rx', 17).attr('ry', 24)
  .attr('fill', 'none').attr('stroke', 'url(#gOval)').attr('stroke-width', 4).attr('stroke-dasharray', '4,5');

const legendText = [
  [812, 597, '5週超連続陽線', 834, 139],
  [1070, 597, '4週連続陽線', 1091, 121],
  [1566, 619, '直近２回の３週連続陰線', 1588, 228],
  [420, 768, 'RSIが過熱状態(70超)を長期間維持', 441, 312],
  [937, 768, 'ストキャスティクスが高水準で保合い', 959, 339],
  [1451, 769, '底打ち⇒更なる地合い好転の余地 大', 1469, 337]
];
legendText.forEach(([cx, cy, s, sx, len]) => {
  leg.append('text').attr('x', cx).attr('y', cy).attr('font-family', JP).attr('font-size', 21)
    .attr('font-weight', 700).attr('fill', '#444').text('：');
  underlined(leg, s, sx, cy, 21, '#444', len);
});
leg.append('text').attr('x', 829).attr('y', 617).attr('font-family', JP).attr('font-size', 21)
  .attr('font-weight', 700).attr('fill', '#444').attr('textLength', 108).attr('lengthAdjust', 'spacingAndGlyphs')
  .text('（2022年）');
leg.append('text').attr('x', 1073).attr('y', 617).attr('font-family', JP).attr('font-size', 21)
  .attr('font-weight', 700).attr('fill', '#444').attr('textLength', 378).attr('lengthAdjust', 'spacingAndGlyphs')
  .text('（2023年以降５連騰以上は一度もない）');

// ---------- RSI panel ----------
const sub = svg.append('g');
rsiLevels.forEach((v, i) => {
  const yy = Math.round(yR(v)) + 0.5;
  sub.append('line').attr('x1', L).attr('x2', R).attr('y1', yy).attr('y2', yy)
    .attr('stroke', ['#8a8a8a', '#e3ad55', '#a33a3a'][i]).attr('stroke-width', i === 0 ? 1.5 : 1.2)
    .attr('stroke-dasharray', i === 1 ? '8,3,2,3' : null);
});
const rl = d3.line().x(d => x(d[0])).y(d => yR(d[1]));
sub.append('path').attr('d', rl(rsiPts)).attr('fill', 'none').attr('stroke', '#6aa6da').attr('stroke-width', 1.2);

// ---------- Stoch panel ----------
stochLevels.forEach((v, i) => {
  const yy = Math.round(yS(v)) + 0.5;
  sub.append('line').attr('x1', L).attr('x2', R).attr('y1', yy).attr('y2', yy)
    .attr('stroke', ['#8a8a8a', '#b8b8b8', '#b84040'][i]).attr('stroke-width', i === 0 ? 1.5 : 1)
    .attr('stroke-dasharray', i === 1 ? '3,3' : null);
});
const sl = d3.line().x(d => x(d[0])).y(d => yS(d[1]));
sub.append('path').attr('d', sl(stochD)).attr('fill', 'none').attr('stroke', '#c04040').attr('stroke-width', 1)
  .attr('stroke-dasharray', '3,2');
sub.append('path').attr('d', sl(stochK)).attr('fill', 'none').attr('stroke', '#2f7a2f').attr('stroke-width', 1.2);

// sub-panel annotations
rsiCapsules.forEach(([w0, w1]) => {
  sub.append('rect').attr('x', x(w0)).attr('y', 813).attr('width', x(w1) - x(w0)).attr('height', 33)
    .attr('rx', 14).attr('fill', 'none').attr('stroke', '#777').attr('stroke-width', 5).attr('stroke-dasharray', '13,6');
});
rsiDots.forEach(([w, v]) => sub.append('circle').attr('cx', x(w)).attr('cy', yR(v)).attr('r', 17)
  .attr('fill', 'none').attr('stroke', '#111').attr('stroke-width', 5).attr('stroke-dasharray', '4,5'));
stochCapsules.forEach(([w0, w1]) => {
  sub.append('rect').attr('x', x(w0)).attr('y', 899).attr('width', x(w1) - x(w0)).attr('height', 28)
    .attr('rx', 12).attr('fill', 'none').attr('stroke', '#858585').attr('stroke-width', 4.5).attr('stroke-dasharray', '5,5');
});
sub.append('ellipse').attr('cx', x(bottomOval)).attr('cy', 896).attr('rx', 25).attr('ry', 73)
  .attr('fill', 'none').attr('stroke', 'url(#gOval)').attr('stroke-width', 5).attr('stroke-dasharray', '4,6');

// ---------- frame and separators ----------
const fr = svg.append('g');
fr.append('rect').attr('x', L).attr('y', mainTop).attr('width', R - L).attr('height', stoBot - mainTop)
  .attr('fill', 'none').attr('stroke', '#000');
[[821, 824], [905, 908]].forEach(([a, b]) => {
  fr.append('rect').attr('x', L).attr('y', a).attr('width', 1915 - L).attr('height', b - a)
    .attr('fill', '#fff').attr('stroke', '#8a8a8a').attr('stroke-width', 1.3);
});

// header texts
const hdr = svg.append('g').attr('font-size', 11.8).attr('fill', '#000');
hdr.append('text').attr('x', 15).attr('y', 192).text('USDJPY,Weekly  ' + lastQuote.map(v => v.toFixed(3)).join(' '));
hdr.append('text').attr('x', 15).attr('y', 838).text('RSI(14) ' + rsiLast.toFixed(4));
hdr.append('text').attr('x', 15).attr('y', 922).text('Stoch(9,3,3) ' + stochLast.map(v => v.toFixed(4)).join(' '));

// ---------- right axis ----------
const ax = svg.append('g').attr('font-size', 12);
priceTicks.forEach(p => {
  const yy = Math.round(y(p)) + 0.5;
  ax.append('line').attr('x1', R).attr('x2', R + 4).attr('y1', yy).attr('y2', yy).attr('stroke', '#000');
  // the tick label that sits fully under the 158.880 tag is not visible in the picture
  if (Math.abs(y(p) - y(priceLevels[1])) > 3) {
    ax.append('text').attr('x', 1858).attr('y', yy).attr('dominant-baseline', 'central').attr('fill', '#222').text(p.toFixed(3));
  }
});
function tag(v, yy, bg, fg, digits) {
  ax.append('rect').attr('x', 1852).attr('y', yy - 8).attr('width', 62).attr('height', 16).attr('fill', bg);
  ax.append('text').attr('x', 1858).attr('y', yy).attr('dominant-baseline', 'central').attr('fill', fg)
    .text(v.toFixed(digits));
}
tag(priceLevels[0], y(priceLevels[0]), '#3f6e6e', '#e8f0f0', 3);
tag(lastQuote[3], y(lastQuote[3]), '#000', '#fff', 3);
tag(priceLevels[1], y(priceLevels[1]), '#6b7a30', '#f4f4e0', 3);
tag(priceLevels[2], y(priceLevels[2]), '#7f9c2e', '#f4f8e0', 3);
tag(priceLevels[3], y(priceLevels[3]), '#c4262c', '#fff', 3);
tag(priceLevels[4], y(priceLevels[4]), '#8b0a0a', '#fff', 3);
ax.append('text').attr('x', 1858).attr('y', 832).attr('dominant-baseline', 'central').text('85');
ax.append('text').attr('x', 1858).attr('y', 898).attr('dominant-baseline', 'central').text('15');
tag(rsiLevels[0], yR(rsiLevels[0]), '#6e6e6e', '#fff', 4);
tag(rsiLevels[1], yR(rsiLevels[1]), '#ff9a1a', '#fff', 4);
tag(rsiLevels[2], yR(rsiLevels[2]), '#a3282a', '#fff', 4);
ax.append('text').attr('x', 1858).attr('y', 926).attr('dominant-baseline', 'central').text('80');
tag(stochLevels[0], yS(stochLevels[0]), '#6e6e6e', '#fff', 4);
tag(stochLevels[2], yS(stochLevels[2]), '#a3282a', '#fff', 4);

// ---------- bottom axis ----------
const bx = svg.append('g').attr('font-size', 11).attr('fill', '#222');
tickLabels.forEach((t, i) => {
  const xx = Math.round(x(i * 12)) + 0.5;
  bx.append('line').attr('x1', xx).attr('x2', xx).attr('y1', stoBot).attr('y2', stoBot + 5).attr('stroke', '#000');
  bx.append('text').attr('x', xx - 1).attr('y', 988).text(t);
});

// ---------- tabs ----------
const tb = svg.append('g').attr('font-size', 13);
tb.append('rect').attr('x', 6).attr('y', 997).attr('width', 1909).attr('height', 28).attr('fill', '#f0f0f0');
tb.append('line').attr('x1', 6).attr('x2', 1915).attr('y1', 997.5).attr('y2', 997.5).attr('stroke', '#9a9a9a');
const tabX = [[27, 8, 124], [141, 132, 261], [278, 270, 404], [416, 404, 531], [544, 531, 690]];
tabs.forEach((t, i) => {
  const [tx, a, b] = tabX[i];
  if (i === 1) tb.append('rect').attr('x', a).attr('y', 996).attr('width', b - a).attr('height', 26)
    .attr('fill', '#fff').attr('stroke', '#6a6a6a');
  else tb.append('line').attr('x1', b).attr('x2', b).attr('y1', 1001).attr('y2', 1020).attr('stroke', '#c4c4c4');
  tb.append('text').attr('x', tx).attr('y', 1014).attr('fill', i === 1 ? '#000' : '#7a7a7a').text(t);
});
tb.append('text').attr('x', 1876).attr('y', 1014).attr('fill', '#aaa').attr('font-size', 11).text('◂');
tb.append('text').attr('x', 1899).attr('y', 1014).attr('fill', '#aaa').attr('font-size', 11).text('▸');
tb.append('line').attr('x1', 4).attr('x2', 1916).attr('y1', 1030.5).attr('y2', 1030.5).attr('stroke', '#b5b5b5');
</script>
</body>
</html>
